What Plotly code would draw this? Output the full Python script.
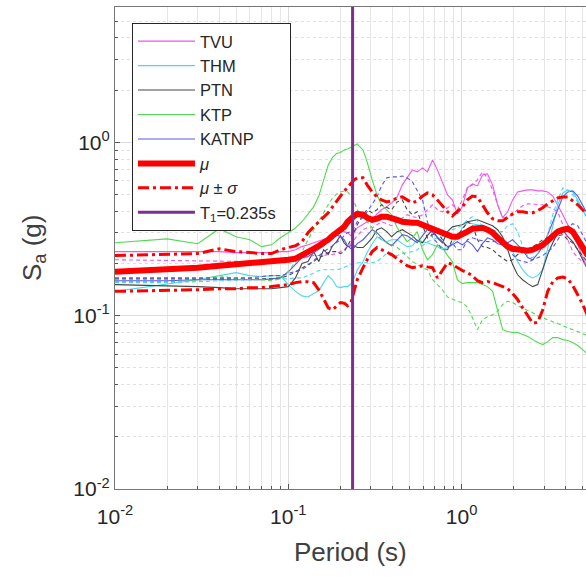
import plotly.graph_objects as go

# Periods (s)
periods = [0.01,0.02,0.03,0.04,0.05,0.06,0.07,0.08,0.09,0.10,
           0.11,0.12,0.13,0.14,0.15,0.16,0.17,0.18,0.19,0.20,
           0.21,0.22,0.23,0.24,0.25,0.27,0.285,0.305,0.325,0.345,
           0.37,0.395,0.425,0.455,0.485,0.52,0.555,0.595,0.635,0.68,
           0.725,0.775,0.83,0.885,0.945,1.01,1.08,1.155,1.235,1.32,
           1.41,1.51,1.615,1.725,1.845,1.97,2.105,2.25,2.41,2.575,
           2.75,2.94,3.14,3.36,3.59,3.84,4.10,4.38,4.68,5.00,5.35]

mu = [0.179,0.184,0.189,0.194,0.197,0.200,0.202,0.205,0.208,0.210,
      0.213,0.222,0.234,0.243,0.253,0.263,0.274,0.289,0.301,0.313,
      0.325,0.348,0.367,0.376,0.386,0.382,0.367,0.357,0.362,0.372,
      0.372,0.367,0.357,0.348,0.343,0.343,0.343,0.334,0.325,0.317,
      0.309,0.301,0.293,0.285,0.285,0.293,0.305,0.317,0.321,0.321,
      0.313,0.301,0.281,0.263,0.250,0.243,0.240,0.237,0.237,0.240,
      0.247,0.256,0.270,0.289,0.305,0.313,0.317,0.305,0.274,0.243,
      0.222]

mu_plus = [0.222,0.225,0.228,0.243,0.234,0.231,0.228,0.228,0.240,0.247,
           0.253,0.267,0.301,0.325,0.348,0.367,0.392,0.424,0.459,0.489,
           0.521,0.550,0.575,0.607,0.623,0.623,0.568,0.517,0.484,0.465,
           0.453,0.459,0.477,0.484,0.465,0.447,0.459,0.489,0.510,0.497,
           0.465,0.430,0.397,0.376,0.397,0.424,0.465,0.489,0.484,0.436,
           0.392,0.362,0.352,0.352,0.367,0.386,0.397,0.397,0.392,0.392,
           0.403,0.419,0.441,0.459,0.477,0.484,0.484,0.459,0.436,0.408,
           0.376]

mu_minus = [0.138,0.139,0.141,0.143,0.143,0.145,0.145,0.147,0.149,0.151,
            0.155,0.157,0.157,0.155,0.141,0.124,0.111,0.108,0.114,0.119,
            0.118,0.114,0.119,0.138,0.161,0.189,0.210,0.234,0.247,0.240,
            0.231,0.225,0.213,0.202,0.194,0.189,0.191,0.194,0.191,0.189,
            0.165,0.184,0.202,0.197,0.189,0.182,0.177,0.170,0.159,0.155,
            0.157,0.155,0.151,0.147,0.143,0.134,0.124,0.111,0.0993,0.0904,
            0.0916,0.108,0.138,0.157,0.165,0.167,0.163,0.149,0.132,0.116,
            0.0993]

tvu_1 = [0.234,0.234,0.234,0.234,0.231,0.231,0.231,0.231,0.234,0.234,
         0.240,0.250,0.256,0.263,0.267,0.274,0.281,0.289,0.297,0.305,
         0.305,0.301,0.289,0.301,0.321,0.339,0.348,0.357,0.386,0.408,
         0.424,0.447,0.484,0.568,0.623,0.693,0.675,0.711,0.675,0.791,
         0.693,0.591,0.497,0.465,0.386,0.424,0.545,0.575,0.560,0.648,
         0.657,0.568,0.436,0.367,0.397,0.465,0.517,0.524,0.531,0.531,
         0.524,0.524,0.517,0.489,0.436,0.382,0.334,0.293,0.256,0.216,
         0.189]
tvu_2 = [0.210,0.208,0.205,0.205,0.205,0.205,0.205,0.205,0.205,0.208,
         0.210,0.214,0.218,0.222,0.222,0.222,0.225,0.225,0.228,0.234,
         0.240,0.250,0.260,0.274,0.289,0.313,0.321,0.321,0.334,0.348,
         0.339,0.330,0.348,0.367,0.382,0.372,0.367,0.382,0.408,0.436,
         0.408,0.397,0.419,0.436,0.408,0.465,0.545,0.568,0.607,0.675,
         0.623,0.531,0.436,0.367,0.367,0.386,0.408,0.430,0.441,0.441,
         0.436,0.436,0.424,0.413,0.397,0.334,0.274,0.234,0.216,0.205,
         0.194]

thm_1 = [0.138,0.153,0.161,0.170,0.177,0.170,0.168,0.170,0.170,0.151,
         0.138,0.130,0.128,0.134,0.139,0.155,0.170,0.161,0.147,0.145,
         0.147,0.147,0.153,0.165,0.184,0.205,0.231,0.260,0.285,0.274,
         0.267,0.274,0.274,0.260,0.250,0.253,0.274,0.267,0.263,0.256,
         0.250,0.240,0.247,0.260,0.281,0.321,0.343,0.339,0.334,0.330,
         0.321,0.313,0.297,0.277,0.260,0.234,0.205,0.184,0.170,0.165,
         0.170,0.184,0.247,0.334,0.436,0.510,0.531,0.517,0.465,0.408,
         0.357]
thm_2 = [0.155,0.155,0.157,0.159,0.161,0.161,0.163,0.163,0.163,0.163,
         0.165,0.165,0.170,0.177,0.182,0.184,0.184,0.184,0.184,0.186,
         0.191,0.194,0.197,0.200,0.202,0.202,0.202,0.202,0.205,0.216,
         0.228,0.222,0.222,0.228,0.231,0.234,0.240,0.253,0.267,0.274,
         0.281,0.285,0.297,0.313,0.321,0.334,0.357,0.372,0.348,0.330,
         0.321,0.313,0.305,0.305,0.330,0.339,0.305,0.253,0.219,0.216,
         0.228,0.240,0.293,0.382,0.465,0.545,0.531,0.497,0.453,0.408,
         0.357]

ptn_1 = [0.151,0.149,0.147,0.145,0.143,0.143,0.143,0.143,0.145,0.147,
         0.165,0.200,0.205,0.234,0.205,0.240,0.225,0.253,0.267,0.289,
         0.263,0.250,0.253,0.253,0.247,0.247,0.260,0.281,0.313,0.321,
         0.305,0.285,0.305,0.313,0.301,0.289,0.270,0.263,0.289,0.313,
         0.281,0.263,0.305,0.325,0.330,0.334,0.348,0.352,0.357,0.348,
         0.339,0.330,0.313,0.285,0.240,0.197,0.172,0.161,0.153,0.147,
         0.151,0.184,0.225,0.263,0.301,0.313,0.285,0.267,0.240,0.210,
         0.184]
ptn_2 = [0.163,0.163,0.163,0.163,0.163,0.163,0.163,0.163,0.165,0.170,
         0.179,0.189,0.197,0.205,0.216,0.222,0.231,0.234,0.234,0.228,
         0.234,0.253,0.274,0.305,0.334,0.382,0.408,0.392,0.408,0.436,
         0.419,0.408,0.453,0.465,0.408,0.382,0.397,0.334,0.281,0.293,
         0.305,0.274,0.240,0.274,0.293,0.313,0.348,0.334,0.274,0.250,
         0.247,0.240,0.225,0.216,0.205,0.210,0.225,0.231,0.240,0.250,
         0.260,0.274,0.281,0.285,0.289,0.293,0.274,0.263,0.240,0.219,
         0.202]

ktp_1 = [0.263,0.277,0.260,0.317,0.285,0.274,0.250,0.256,0.281,0.301,
         0.320,0.348,0.386,0.424,0.489,0.607,0.740,0.818,0.861,0.873,
         0.903,0.915,0.939,0.965,0.978,0.903,0.770,0.607,0.497,0.436,
         0.408,0.382,0.321,0.293,0.267,0.281,0.305,0.240,0.210,0.225,
         0.256,0.247,0.222,0.205,0.161,0.153,0.155,0.155,0.155,0.151,
         0.147,0.138,0.108,0.0830,0.0809,0.0799,0.0799,0.0777,0.0757,0.0727,
         0.0699,0.0681,0.0708,0.0747,0.0747,0.0727,0.0718,0.0699,0.0672,0.0637,
         0.0596]
ktp_2 = [0.157,0.157,0.159,0.170,0.163,0.161,0.161,0.159,0.163,0.179,
         0.205,0.234,0.274,0.313,0.348,0.392,0.436,0.477,0.503,0.517,
         0.524,0.517,0.489,0.453,0.408,0.367,0.348,0.321,0.293,0.274,
         0.263,0.256,0.247,0.234,0.219,0.205,0.197,0.189,0.184,0.161,
         0.151,0.141,0.128,0.124,0.121,0.119,0.112,0.0973,0.0830,0.0948,
         0.0985,0.101,0.106,0.116,0.121,0.119,0.114,0.110,0.107,0.104,
         0.0998,0.0973,0.0948,0.0924,0.0900,0.0877,0.0853,0.0830,0.0809,0.0788,
         0.0767]

katnp_1 = [0.159,0.159,0.161,0.161,0.161,0.161,0.161,0.163,0.165,0.179,
           0.197,0.216,0.219,0.231,0.240,0.253,0.267,0.281,0.293,0.285,
           0.274,0.253,0.243,0.247,0.260,0.274,0.289,0.313,0.301,0.281,
           0.263,0.253,0.274,0.293,0.289,0.274,0.263,0.289,0.313,0.301,
           0.285,0.267,0.250,0.256,0.267,0.256,0.270,0.256,0.234,0.260,
           0.281,0.274,0.260,0.256,0.263,0.274,0.256,0.240,0.216,0.210,
           0.228,0.250,0.293,0.348,0.419,0.484,0.517,0.524,0.489,0.436,
           0.382]
katnp_2 = [0.165,0.165,0.165,0.165,0.165,0.165,0.168,0.170,0.170,0.175,
           0.179,0.184,0.194,0.208,0.219,0.234,0.243,0.253,0.263,0.274,
           0.289,0.301,0.305,0.321,0.348,0.367,0.397,0.436,0.484,0.560,
           0.623,0.631,0.631,0.639,0.623,0.591,0.531,0.465,0.348,0.281,
           0.263,0.240,0.240,0.263,0.240,0.240,0.274,0.281,0.274,0.270,
           0.267,0.267,0.270,0.274,0.256,0.225,0.210,0.205,0.202,0.210,
           0.216,0.222,0.234,0.247,0.274,0.305,0.321,0.339,0.330,0.293,
           0.256]

T1 = 0.235
stations = ["TVU", "THM", "PTN", "KTP", "KATNP"]
comp1 = [tvu_1, thm_1, ptn_1, ktp_1, katnp_1]
comp2 = [tvu_2, thm_2, ptn_2, ktp_2, katnp_2]
colors = ["#F055F0", "#4CD8EC", "#474747", "#4EDC4E", "#5656EE"]
tick_vals = [0.01, 0.1, 1]
tick_text = ["10<sup>-2</sup>", "10<sup>-1</sup>", "10<sup>0</sup>"]

fig = go.Figure()
for name, vals, c in zip(stations, comp1, colors):
    fig.add_trace(go.Scatter(x=periods, y=vals, mode="lines", name=name,
                             line=dict(color=c, width=1.1)))
for name, vals, c in zip(stations, comp2, colors):
    fig.add_trace(go.Scatter(x=periods, y=vals, mode="lines", name=name + " (2)",
                             showlegend=False, line=dict(color=c, width=1.1, dash="4px,3px")))

fig.add_trace(go.Scatter(x=periods, y=mu, mode="lines", name="<i>μ</i>",
                         line=dict(color="#FF0000", width=6)))
fig.add_trace(go.Scatter(x=periods, y=mu_plus, mode="lines", name="<i>μ</i> ± <i>σ</i>",
                         line=dict(color="#FF0000", width=3, dash="11px,4px,3px,4px")))
fig.add_trace(go.Scatter(x=periods, y=mu_minus, mode="lines", showlegend=False,
                         line=dict(color="#FF0000", width=3, dash="11px,4px,3px,4px")))
fig.add_trace(go.Scatter(x=[T1, T1], y=[0.01, 10], mode="lines",
                         name="T<sub>1</sub>=0.235s\u00a0\u00a0",
                         line=dict(color="#7E2F8E", width=3)))

minor_vals = [m * 10.0**e for e in (-2, -1, 0) for m in range(2, 10)]

fig.update_layout(
    width=586, height=577,
    margin=dict(l=115, r=0, t=7, b=88, autoexpand=False),
    paper_bgcolor="white", plot_bgcolor="white",
    font=dict(family="Liberation Sans, Arial, sans-serif", color="#262626"),
    showlegend=True,
    legend=dict(x=0.036, y=0.967, xanchor="left", yanchor="top",
                bgcolor="white", bordercolor="#262626", borderwidth=1,
                font=dict(size=16.5, color="#262626"), itemwidth=57,
                tracegroupgap=0),
    annotations=[
        dict(text="Period (s)", xref="paper", yref="paper", x=0.5, y=-0.13,
             xanchor="center", yanchor="middle", showarrow=False,
             font=dict(size=26, color="#404040")),
        dict(text="S<sub>a</sub> (g)", xref="paper", yref="paper", x=-0.174, y=0.5,
             xanchor="center", yanchor="middle", showarrow=False, textangle=-90,
             font=dict(size=26, color="#404040")),
    ],
)
fig.update_xaxes(
    type="log", range=[-2, 0.718], automargin=False,
    tickvals=tick_vals, ticktext=tick_text,
    ticks="inside", ticklen=5, tickcolor="#555555", ticklabelstandoff=9,
    tickfont=dict(size=21, color="#262626"),
    showline=True, linecolor="#777777", linewidth=1.2, mirror=True,
    showgrid=True, gridcolor="#dcdcdc", gridwidth=1,
    minor=dict(tickvals=minor_vals, ticks="inside", ticklen=3, tickcolor="#555555",
               showgrid=True, gridcolor="#e6e6e6", gridwidth=1),
    zeroline=False,
)
fig.update_yaxes(
    type="log", range=[-2, 0.78], automargin=False,
    tickvals=tick_vals, ticktext=tick_text,
    ticks="inside", ticklen=5, tickcolor="#555555",
    tickfont=dict(size=21, color="#262626"),
    showline=True, linecolor="#777777", linewidth=1.2, mirror=False,
    showgrid=True, gridcolor="#dcdcdc", gridwidth=1,
    minor=dict(tickvals=minor_vals, ticks="inside", ticklen=3, tickcolor="#555555",
               showgrid=True, gridcolor="#e0e0e0", gridwidth=1, griddash="dot"),
    zeroline=False,
)

fig.write_html(
    "out.html",
    config={"displayModeBar": False},
    post_script="document.body.style.margin='0';document.body.style.overflow='hidden';",
)
